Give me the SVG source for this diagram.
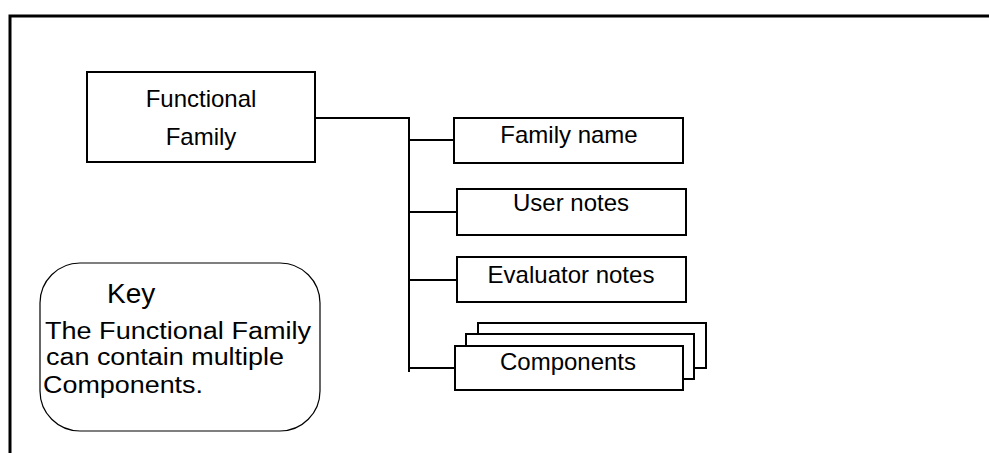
<svg xmlns="http://www.w3.org/2000/svg" width="989" height="453" viewBox="0 0 989 453">
<style>
.box{fill:#fff;stroke:#000;stroke-width:2}
.t{font-family:"Liberation Sans",Arial,sans-serif;font-size:24px;fill:#000}
.k{font-size:23px}
.c{text-anchor:middle}
.ln{fill:none;stroke:#000;stroke-width:2}
</style>
<rect width="989" height="453" fill="#fff"/>
<path d="M10,453 V16 H989" fill="none" stroke="#000" stroke-width="3"/>
<g id="connectors">
<path class="ln" d="M316,118 H409 V372"/>
<path class="ln" d="M409,140 H454"/>
<path class="ln" d="M409,212 H457"/>
<path class="ln" d="M409,280 H457"/>
<path class="ln" d="M409,368 H455"/>
</g>
<g id="functional-family">
<rect class="box" x="87" y="72" width="228" height="90"/>
<text class="t c" x="201" y="107">Functional</text>
<text class="t c" x="201" y="145">Family</text>
</g>
<g id="family-name">
<rect class="box" x="454" y="118" width="229" height="45"/>
<text class="t c" x="569" y="143">Family name</text>
</g>
<g id="user-notes">
<rect class="box" x="457" y="189" width="229" height="46"/>
<text class="t c" x="571" y="211">User notes</text>
</g>
<g id="evaluator-notes">
<rect class="box" x="457" y="257" width="229" height="45"/>
<text class="t c" x="571" y="283">Evaluator notes</text>
</g>
<g id="components">
<rect class="box" x="478" y="323" width="228" height="45"/>
<rect class="box" x="466" y="334" width="228" height="45"/>
<rect class="box" x="455" y="346" width="228" height="44"/>
<text class="t c" x="568" y="370">Components</text>
</g>
<g id="key">
<rect x="40" y="263" width="280" height="168" rx="40" ry="40" fill="#fff" stroke="#000" stroke-width="1.2"/>
<text class="t" x="107" y="303" style="font-size:28px">Key</text>
<text class="t k" x="45" y="339" textLength="266" lengthAdjust="spacingAndGlyphs">The Functional Family</text>
<text class="t k" x="46" y="365" textLength="238" lengthAdjust="spacingAndGlyphs">can contain multiple</text>
<text class="t k" x="43" y="393" textLength="160" lengthAdjust="spacingAndGlyphs">Components.</text>
</g>
</svg>
